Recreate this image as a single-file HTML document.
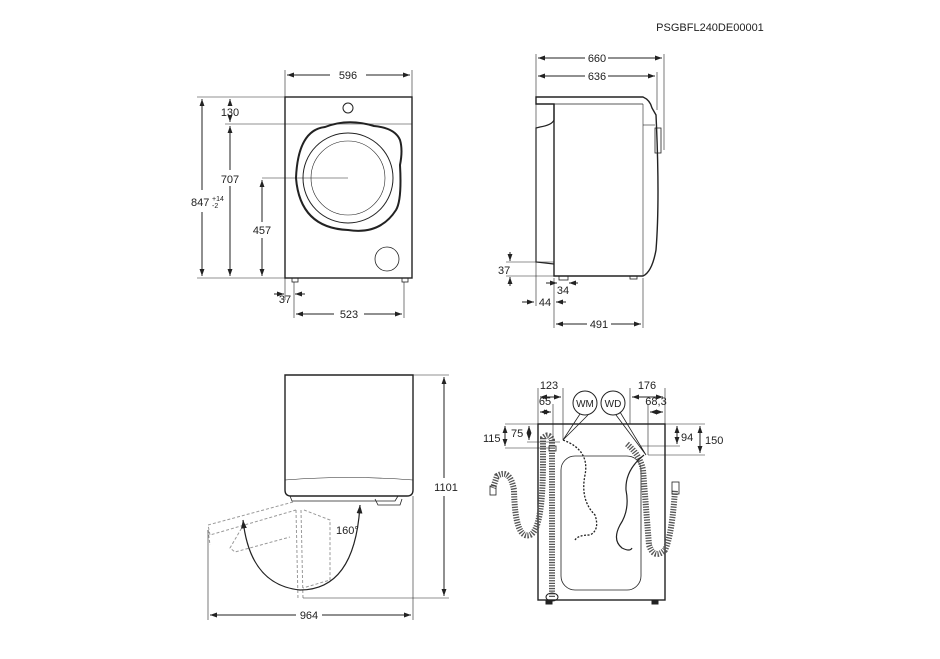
<!DOCTYPE html>
<html><head><meta charset="utf-8"><style>
html,body{margin:0;padding:0;background:#fff;}
svg{display:block;font-family:"Liberation Sans",sans-serif;}
</style></head><body>
<svg width="940" height="659" viewBox="0 0 940 659" xmlns="http://www.w3.org/2000/svg">
<defs>
<marker id="a" viewBox="0 0 10 10" refX="10" refY="5" markerWidth="7" markerHeight="7" orient="auto-start-reverse"><path d="M0,1.5 L10,5 L0,8.5z" fill="#222"/></marker>
</defs>
<g fill="none" stroke="#222" stroke-width="1">
<text x="710" y="31" font-size="11" fill="#222" stroke="none" text-anchor="middle">PSGBFL240DE00001</text>

<!-- FRONT VIEW -->
<rect x="285" y="97" width="127" height="181" stroke-width="1.4"/>
<line x1="285" y1="124" x2="412" y2="124" stroke-width="0.6"/>
<circle cx="348" cy="108" r="5"/>
<path d="M325 127 Q348 118 374 126 Q395 128 400 140 Q403 150 400 165 Q402 200 396 210 Q380 235 348 230 Q300 228 296 178 Q298 130 325 127z" stroke-width="2"/>
<circle cx="348" cy="178" r="45"/>
<circle cx="348" cy="178" r="37" stroke-width="0.6"/>
<circle cx="387" cy="259" r="12" stroke-width="0.8"/>
<rect x="292" y="278" width="6" height="4" stroke-width="0.8"/>
<rect x="402" y="278" width="6" height="4" stroke-width="0.8"/>
<g stroke-width="0.6">
<line x1="285" y1="70" x2="285" y2="97"/><line x1="412" y1="70" x2="412" y2="97"/>
<line x1="197" y1="97" x2="285" y2="97"/><line x1="197" y1="278" x2="292" y2="278"/>
<line x1="225" y1="124" x2="285" y2="124"/><line x1="262" y1="178" x2="348" y2="178"/>
<line x1="285" y1="278" x2="285" y2="300"/><line x1="294" y1="282" x2="294" y2="318"/>
<line x1="404" y1="282" x2="404" y2="318"/>
</g>
<line x1="287" y1="75" x2="330" y2="75" marker-start="url(#a)"/><line x1="366" y1="75" x2="410" y2="75" marker-end="url(#a)"/>
<text x="348" y="79" font-size="11" fill="#222" stroke="none" text-anchor="middle">596</text>
<line x1="202" y1="99" x2="202" y2="190" marker-start="url(#a)"/><line x1="202" y1="212" x2="202" y2="276" marker-end="url(#a)"/>
<text x="191" y="206" font-size="11" fill="#222" stroke="none">847</text>
<text x="212" y="201" font-size="7" fill="#222" stroke="none">+14</text>
<text x="212" y="208" font-size="7" fill="#222" stroke="none">-2</text>
<line x1="230" y1="99" x2="230" y2="105" marker-start="url(#a)"/><line x1="230" y1="116" x2="230" y2="122" marker-end="url(#a)"/>
<text x="230" y="116" font-size="11" fill="#222" stroke="none" text-anchor="middle">130</text>
<line x1="230" y1="126" x2="230" y2="170" marker-start="url(#a)"/><line x1="230" y1="186" x2="230" y2="276" marker-end="url(#a)"/>
<text x="230" y="183" font-size="11" fill="#222" stroke="none" text-anchor="middle">707</text>
<line x1="262" y1="180" x2="262" y2="222" marker-start="url(#a)"/><line x1="262" y1="238" x2="262" y2="276" marker-end="url(#a)"/>
<text x="262" y="234" font-size="11" fill="#222" stroke="none" text-anchor="middle">457</text>
<line x1="274" y1="294" x2="284" y2="294" marker-end="url(#a)"/><line x1="305" y1="294" x2="295" y2="294" marker-end="url(#a)"/>
<text x="285" y="303" font-size="11" fill="#222" stroke="none" text-anchor="middle">37</text>
<line x1="296" y1="314" x2="334" y2="314" marker-start="url(#a)"/><line x1="364" y1="314" x2="402" y2="314" marker-end="url(#a)"/>
<text x="349" y="318" font-size="11" fill="#222" stroke="none" text-anchor="middle">523</text>

<!-- SIDE VIEW -->
<path d="M536 97 L643 97 Q650 100 652 108 L656 115 Q660 200 656 250 Q652 272 643 276 L554 276 L554 104 L536 104z" stroke-width="1.4"/>
<line x1="554" y1="104" x2="643" y2="104" stroke-width="0.8"/>
<path d="M643 104 L643 276" stroke-width="0.6"/>
<path d="M643 125 L655 125" stroke-width="0.6"/>
<path d="M554 104 L554 120 Q552 125 540 127 L536 128 L536 262 L554 264" stroke-width="1.2"/>
<rect x="655" y="128" width="6" height="25" stroke-width="0.8"/>
<rect x="559" y="276" width="9" height="4" stroke-width="0.8"/>
<rect x="630" y="276" width="7" height="3" stroke-width="0.8"/>
<g stroke-width="0.6">
<line x1="536" y1="54" x2="536" y2="306"/><line x1="664" y1="54" x2="664" y2="150"/>
<line x1="657" y1="72" x2="657" y2="110"/>
<line x1="506" y1="262" x2="554" y2="262"/><line x1="506" y1="276" x2="554" y2="276"/>
<line x1="554" y1="278" x2="554" y2="328"/><line x1="643" y1="278" x2="643" y2="328"/>
</g>
<line x1="538" y1="58" x2="585" y2="58" marker-start="url(#a)"/><line x1="608" y1="58" x2="662" y2="58" marker-end="url(#a)"/>
<text x="597" y="62" font-size="11" fill="#222" stroke="none" text-anchor="middle">660</text>
<line x1="538" y1="76" x2="585" y2="76" marker-start="url(#a)"/><line x1="608" y1="76" x2="655" y2="76" marker-end="url(#a)"/>
<text x="597" y="80" font-size="11" fill="#222" stroke="none" text-anchor="middle">636</text>
<line x1="510" y1="252" x2="510" y2="261" marker-end="url(#a)"/><line x1="510" y1="286" x2="510" y2="277" marker-end="url(#a)"/>
<text x="498" y="274" font-size="11" fill="#222" stroke="none">37</text>
<line x1="546" y1="283" x2="557" y2="283" marker-end="url(#a)"/><line x1="578" y1="283" x2="569" y2="283" marker-end="url(#a)"/>
<text x="563" y="294" font-size="11" fill="#222" stroke="none" text-anchor="middle">34</text>
<line x1="522" y1="302" x2="534" y2="302" marker-end="url(#a)"/><line x1="566" y1="302" x2="556" y2="302" marker-end="url(#a)"/>
<text x="545" y="306" font-size="11" fill="#222" stroke="none" text-anchor="middle">44</text>
<line x1="556" y1="324" x2="587" y2="324" marker-start="url(#a)"/><line x1="611" y1="324" x2="641" y2="324" marker-end="url(#a)"/>
<text x="599" y="328" font-size="11" fill="#222" stroke="none" text-anchor="middle">491</text>

<!-- TOP VIEW / DOOR -->
<path d="M285 375 L413 375 L413 490 Q413 496 407 496 L291 496 Q285 496 285 490z" stroke-width="1.4"/>
<path d="M285 480 Q349 475 413 480" stroke-width="0.6"/>
<path d="M290 496 L292 501 L395 501 L398 496" stroke-width="0.8"/>
<path d="M375 499 L378 505 L400 505 L402 499" stroke-width="0.8"/>
<g stroke="#999" stroke-dasharray="3,2" stroke-width="1">
<path d="M293 502 L208 525 L210 535 L296 510"/>
<path d="M296 510 L298 600"/><path d="M301 510 L303 600"/>
<path d="M244 524 L230 548 L235 552 L290 537"/>
<path d="M304 510 L330 520 L330 580 L303 588"/>
<path d="M208 530 L210 545"/>
</g>
<path d="M243 520 Q250 585 300 590 Q355 590 360 505" stroke-width="1.2" marker-start="url(#a)" marker-end="url(#a)"/>
<text x="336" y="534" font-size="11" fill="#222" stroke="none">160°</text>
<g stroke-width="0.6">
<line x1="413" y1="375" x2="449" y2="375"/><line x1="303" y1="598" x2="449" y2="598"/>
<line x1="208" y1="530" x2="208" y2="620"/><line x1="413" y1="496" x2="413" y2="620"/>
</g>
<line x1="444" y1="377" x2="444" y2="478" marker-start="url(#a)"/><line x1="444" y1="496" x2="444" y2="596" marker-end="url(#a)"/>
<text x="446" y="491" font-size="11" fill="#222" stroke="none" text-anchor="middle">1101</text>
<line x1="210" y1="615" x2="296" y2="615" marker-start="url(#a)"/><line x1="322" y1="615" x2="411" y2="615" marker-end="url(#a)"/>
<text x="309" y="619" font-size="11" fill="#222" stroke="none" text-anchor="middle">964</text>

<!-- BACK VIEW -->
<rect x="538" y="424" width="127" height="176" stroke-width="1.4"/>
<rect x="561" y="456" width="80" height="134" rx="14" stroke-width="0.8"/>
<rect x="546" y="600" width="6" height="4" fill="#222"/>
<rect x="652" y="600" width="6" height="4" fill="#222"/>
<g stroke="#555" stroke-width="6" stroke-dasharray="1.3,1.3">
<path d="M552 597 L552 440 Q549 432 543 438 L543 460 Q543 530 530 535 Q515 540 514 490 Q510 468 497 476 L493 488"/>
<path d="M627 444 Q640 455 643 470 L649 545 Q654 560 665 550 Q672 535 675 490"/>
</g>
<rect x="549" y="446" width="7" height="5" stroke-width="0.8"/>
<rect x="490" y="486" width="6" height="9" stroke-width="0.8"/>
<rect x="672" y="482" width="7" height="12" stroke-width="0.8"/>
<ellipse cx="552" cy="597" rx="6" ry="4" stroke-width="1"/>
<path d="M563 440 Q590 450 585 475 Q580 500 595 515 Q600 530 590 535 Q578 535 575 540" stroke-width="1.3" stroke-dasharray="2,1.5"/>
<path d="M644 455 Q625 470 626 490 Q630 510 620 525 Q612 540 622 548 Q630 552 632 548" stroke-width="1.2"/>
<circle cx="585" cy="403" r="12"/><text x="585" y="407" font-size="10" fill="#222" stroke="none" text-anchor="middle">WM</text>
<circle cx="613" cy="403" r="12"/><text x="613" y="407" font-size="10" fill="#222" stroke="none" text-anchor="middle">WD</text>
<path d="M580 414 L563 440 M588 415 L563 440" stroke-width="0.8"/>
<path d="M616 415 L646 455 M620 412 L646 455" stroke-width="0.8"/>
<g stroke-width="0.6">
<line x1="538" y1="388" x2="538" y2="424"/><line x1="563" y1="388" x2="563" y2="440"/><line x1="553" y1="404" x2="553" y2="440"/>
<line x1="630" y1="388" x2="630" y2="424"/><line x1="665" y1="388" x2="665" y2="424"/><line x1="648" y1="404" x2="648" y2="455"/>
<line x1="505" y1="424" x2="538" y2="424"/><line x1="505" y1="448" x2="550" y2="448"/><line x1="527" y1="442" x2="560" y2="442"/>
<line x1="665" y1="424" x2="705" y2="424"/><line x1="640" y1="446" x2="680" y2="446"/><line x1="648" y1="455" x2="705" y2="455"/>
</g>
<line x1="540" y1="397" x2="561" y2="397" marker-start="url(#a)" marker-end="url(#a)"/>
<text x="549" y="389" font-size="11" fill="#222" stroke="none" text-anchor="middle">123</text>
<line x1="540" y1="412" x2="551" y2="412" marker-start="url(#a)" marker-end="url(#a)"/>
<text x="545" y="405" font-size="11" fill="#222" stroke="none" text-anchor="middle">65</text>
<line x1="632" y1="397" x2="663" y2="397" marker-start="url(#a)" marker-end="url(#a)"/>
<text x="647" y="389" font-size="11" fill="#222" stroke="none" text-anchor="middle">176</text>
<line x1="650" y1="412" x2="663" y2="412" marker-start="url(#a)" marker-end="url(#a)"/>
<text x="656" y="405" font-size="11" fill="#222" stroke="none" text-anchor="middle">68,3</text>
<line x1="505" y1="426" x2="505" y2="446" marker-start="url(#a)" marker-end="url(#a)"/>
<text x="483" y="442" font-size="11" fill="#222" stroke="none">115</text>
<line x1="529" y1="426" x2="529" y2="440" marker-start="url(#a)" marker-end="url(#a)"/>
<text x="511" y="437" font-size="11" fill="#222" stroke="none">75</text>
<line x1="677" y1="426" x2="677" y2="444" marker-start="url(#a)" marker-end="url(#a)"/>
<text x="681" y="441" font-size="11" fill="#222" stroke="none">94</text>
<line x1="700" y1="426" x2="700" y2="453" marker-start="url(#a)" marker-end="url(#a)"/>
<text x="705" y="444" font-size="11" fill="#222" stroke="none">150</text>
</g>
</svg>
</body></html>
